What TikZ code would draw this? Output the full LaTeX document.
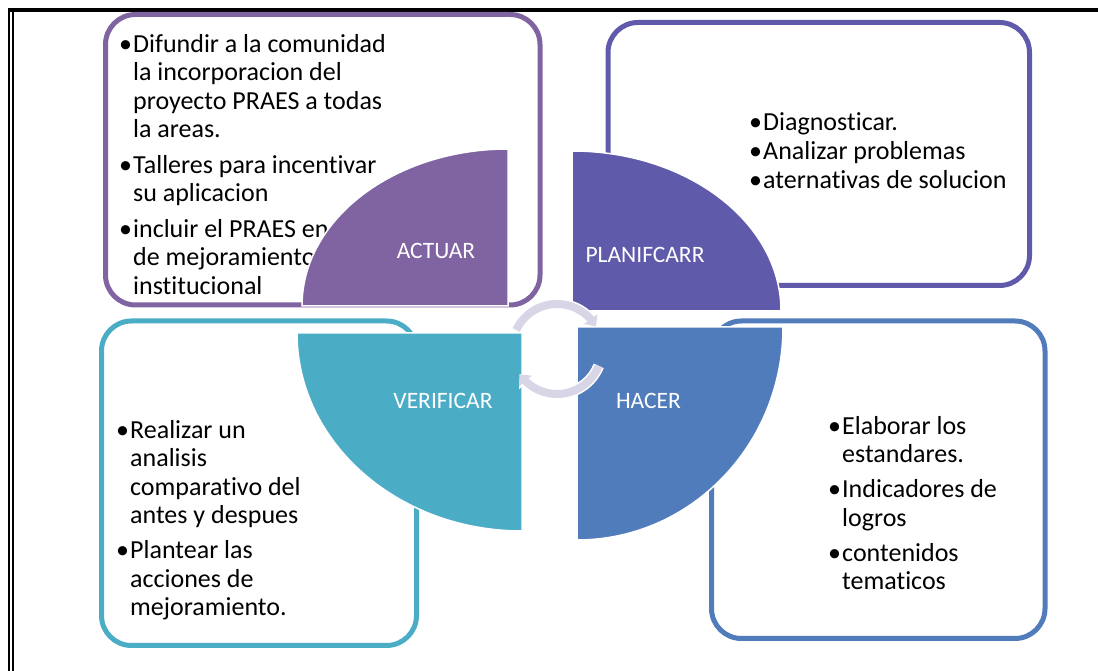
\documentclass[tikz,border=0pt]{standalone}
\usepackage{fontspec}
\setmainfont{Carlito}[Ligatures={NoCommon,NoDiscretionary,NoContextual}]
\usetikzlibrary{positioning,calc,arrows.meta,bending}

\definecolor{actuar}{RGB}{128,100,162}
\definecolor{planif}{RGB}{95,90,170}
\definecolor{hacer}{RGB}{81,124,188}
\definecolor{verif}{RGB}{75,172,198}
\definecolor{cycgray}{RGB}{216,213,230}

\newcommand{\bul}{\strut\makebox[14pt][l]{\textbullet}}
\newcommand{\ind}{\hspace*{14pt}}

\begin{document}
\begin{tikzpicture}[x=1pt,y=1pt,
    box/.style={draw, line width=5pt, rounded corners=30pt, anchor=south west, inner sep=0pt, outer sep=0pt},
    txt/.style={anchor=north west, align=left, inner sep=0pt, font=\fontsize{26}{28.5}\selectfont},
    quad/.style={draw=white, line width=1.5pt},
    lbl/.style={text=white, font=\fontsize{23.5}{26}\selectfont},
    cyc/.style={draw=cycgray, line width=8pt, -{Triangle[width=16pt,length=9pt,flex]}},
    cycw/.style={draw=white, line width=11pt, -{Triangle[width=20pt,length=11pt,flex]}}]
    \useasboundingbox (0,0) rectangle (1098,671);

    %frame
    \draw[line width=4pt] (8,660.7) -- (1098,660.7);
    \draw[line width=2.3pt] (9.15,662.7) -- (9.15,0);
    \draw[line width=1.7pt] (12.85,658.7) -- (12.85,0);

    %coordinates
    \coordinate (qa) at (508,365);
    \coordinate (qp) at (572,360);
    \coordinate (qv) at (522,338);
    \coordinate (qh) at (577,344);
    \coordinate (cc) at (557,322);

    %boxes
    \node[box, draw=actuar, minimum width=434.5, minimum height=290.5] (TL) at (105.5,366) {};
    \node[box, draw=planif, minimum width=421.5, minimum height=263] (TR) at (608,385.5) {};
    \node[box, draw=verif, minimum width=315, minimum height=324.5] (BL) at (101.5,25.5) {};
    \node[box, draw=hacer, minimum width=333.5, minimum height=317.5] (BR) at (711.5,32.5) {};

    %texts
    \node[txt] (TLtext) at ($(TL.north west)+(13.5,-17.5)$) {\bul Difundir a la comunidad\\
        \ind la incorporacion del\\
        \ind proyecto PRAES a todas\\
        \ind la areas.\\[7pt]
        \bul Talleres para incentivar\\
        \ind su aplicacion\\[7pt]
        \bul incluir el PRAES en\\
        \ind de mejoramiento\\
        \ind institucional};
    \node[txt] (TRtext) at ($(TR.north west)+(141,-87.5)$) {\bul Diagnosticar.\\[0.5pt]
        \bul Analizar problemas\\[0.5pt]
        \bul aternativas de solucion};
    \node[txt] (BLtext) at ($(BL.north west)+(14.5,-97)$) {\bul Realizar un\\
        \ind analisis\\
        \ind comparativo del\\
        \ind antes y despues\\[6.5pt]
        \bul Plantear las\\
        \ind acciones de\\
        \ind mejoramiento.};
    \node[txt] (BRtext) at ($(BR.north west)+(116.5,-93)$) {\bul Elaborar los\\
        \ind estandares.\\[6.5pt]
        \bul Indicadores de\\
        \ind logros\\[6.5pt]
        \bul contenidos\\
        \ind tematicos};

    %quadrants
    \filldraw[quad, fill=actuar] (qa) -- ($(qa)+(-206,0)$) arc[start angle=180, end angle=90, x radius=206, y radius=157] -- cycle;
    \filldraw[quad, fill=planif] (qp) -- ($(qp)+(0,160)$) arc[start angle=90, end angle=0, x radius=209, y radius=160] -- cycle;
    \filldraw[quad, fill=verif] (qv) -- ($(qv)+(-225,0)$) arc[start angle=180, end angle=270, x radius=225, y radius=198] -- cycle;
    \filldraw[quad, fill=hacer] (qh) -- ($(qh)+(206,0)$) arc[start angle=0, end angle=-90, x radius=206, y radius=213] -- cycle;

    %labels
    \node[lbl] (A) at ($(qa)+(-72,55.5)$) {ACTUAR};
    \node[lbl] (P) at ($(qp)+(73,56)$) {PLANIFCARR};
    \node[lbl] (V) at ($(qv)+(-79,-68)$) {VERIFICAR};
    \node[lbl] (H) at ($(qh)+(71.5,-74)$) {HACER};

    %cycle
    \draw[cycw] ($(cc)+(155:45)$) arc[start angle=155, end angle=30, radius=45];
    \draw[cycw] ($(cc)+(-22:45)$) arc[start angle=-22, end angle=-146, radius=45];
    \draw[cyc] ($(cc)+(155:45)$) arc[start angle=155, end angle=30, radius=45];
    \draw[cyc] ($(cc)+(-22:45)$) arc[start angle=-22, end angle=-146, radius=45];
\end{tikzpicture}
\end{document}
